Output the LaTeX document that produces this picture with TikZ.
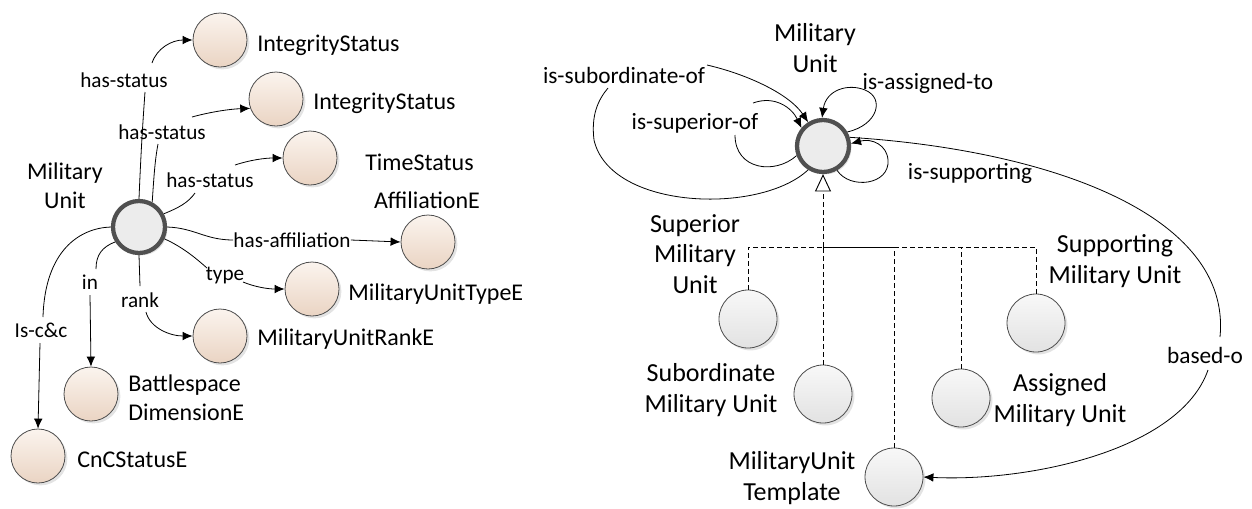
\documentclass[tikz,border=0pt]{standalone}
\usepackage{fontspec}
\setmainfont{Carlito}
\usetikzlibrary{arrows.meta,calc,shadows}
\definecolor{peachtop}{RGB}{251,244,238}
\definecolor{peachbot}{RGB}{234,212,195}
\definecolor{graytop}{RGB}{248,248,248}
\definecolor{graybot}{RGB}{226,226,226}
\definecolor{bigfill}{RGB}{236,236,236}
\definecolor{bigline}{RGB}{80,80,80}
\begin{document}
\begin{tikzpicture}[x=0.75pt,y=-0.75pt,
  every node/.style={inner sep=0pt},
  lnode/.style={font=\fontsize{18}{21.75}\selectfont},
  lelab/.style={font=\fontsize{15.9}{19}\selectfont},
  rnode/.style={font=\fontsize{19.5}{23}\selectfont, align=center},
  relab/.style={font=\fontsize{17.5}{21}\selectfont},
  shad/.style={drop shadow={shadow xshift=1.8pt, shadow yshift=-1.8pt, opacity=0.22}},
  peach/.style={circle, draw=black!70, line width=0.6pt, minimum size=40.5pt, top color=peachtop, bottom color=peachbot, shad},
  grayc/.style={circle, draw=black!70, line width=0.6pt, minimum size=43.5pt, top color=graytop, bottom color=graybot, shad},
  bigc/.style={circle, draw=bigline, line width=3.2pt, minimum size=39pt, fill=bigfill, shad},
  conn/.style={line width=0.6pt},
  arr/.style={conn, -{Latex[length=7.5pt,width=6.5pt]}},
  gen/.style={line width=0.6pt, dash pattern=on 3.5pt off 2.5pt},
  genarr/.style={gen, -{Triangle[open, length=13pt, width=12pt, fill=white, line width=0.7pt]}}
]
\useasboundingbox (0,0) rectangle (1252,508);

% ---------------- left diagram ----------------
\node[bigc] (mu1) at (139,227) {};
\node[lnode, align=center] (mu1l) at (65,186) {Military\\Unit};

\node[peach] (is1) at (220,40) {};
\node[lnode, anchor=west] (is1l) at (257,45) {IntegrityStatus};
\node[peach] (is2) at (276,99) {};
\node[lnode, anchor=west] (is2l) at (313,103) {IntegrityStatus};
\node[peach] (ts) at (310,158) {};
\node[lnode, anchor=west] (tsl) at (365,162) {TimeStatus};
\node[peach] (aff) at (428,242) {};
\node[lnode] (affl) at (427,200) {AffiliationE};
\node[peach] (mut) at (312,289) {};
\node[lnode, anchor=west] (mutl) at (348,294) {MilitaryUnitTypeE};
\node[peach] (mur) at (220,336) {};
\node[lnode, anchor=west] (murl) at (257,339) {MilitaryUnitRankE};
\node[peach] (bd) at (91,394) {};
\node[lnode, anchor=west, align=left] (bdl) at (128,398) {Battlespace\\DimensionE};
\node[peach] (cnc) at (38,456) {};
\node[lnode, anchor=west] (cncl) at (77,460) {CnCStatusE};

% edge labels
\node[lelab] (L1) at (124,80) {has-status};
\node[lelab] (L2) at (162,132) {has-status};
\node[lelab] (L3) at (210,180) {has-status};
\node[lelab] (L4) at (292,240) {has-affiliation};
\node[lelab] (L5) at (225,275) {type};
\node[lelab] (L6) at (140,300) {rank};
\node[lelab] (L7) at (90,282) {in};
\node[lelab] (L8) at (41,330) {Is-c\&c};

% has-status 1
\draw[conn] (mu1.90) .. controls (141,150) and (143,120) .. ($(L1)+(21,12)$);
\draw[arr] ($(L1)+(28,-17)$) .. controls (157,48) and (172,40) .. (is1.west);
% has-status 2
\draw[conn] (mu1.62) .. controls (154,175) and (155,160) .. ($(L2)+(-4,12)$);
\draw[arr] ($(L2)+(30,-15)$) .. controls (210,112) and (230,109) .. (is2.200);
% has-status 3
\draw[conn] (mu1.28) .. controls (178,208) and (188,203) .. ($(L3)+(-15,13)$);
\draw[arr] ($(L3)+(25,-15)$) .. controls (250,160) and (265,158) .. (ts.west);
% has-affiliation
\draw[conn] (mu1.0) .. controls (195,228) and (205,240) .. (L4.west);
\draw[arr] (L4.east) -- (aff.west);
% type
\draw[conn] (mu1.-25) .. controls (185,248) and (200,262) .. ($(L5)+(-18,-7)$);
\draw[arr] ($(L5)+(18,7)$) .. controls (255,287) and (268,289) .. (mut.west);
% rank
\draw[conn] (mu1.south) -- ($(L6)+(0,-14)$);
\draw[arr] ($(L6)+(6,12)$) .. controls (150,328) and (170,336) .. (mur.west);
% in
\draw[conn] (mu1.212) .. controls (102,247) and (96,255) .. ($(L7)+(6,-13)$);
\draw[arr] ($(L7)+(0,13)$) -- (bd.north);
% Is-c&c
\draw[conn] (mu1.west) .. controls (80,228) and (45,250) .. ($(L8)+(2,-13)$);
\draw[arr] ($(L8)+(-1,13)$) -- (cnc.north);

% ---------------- right diagram ----------------
\node[bigc] (mu2) at (823,146) {};
\node[rnode] (mu2l) at (815,48) {Military\\Unit};

\node[grayc] (sup) at (748,319) {};
\node[rnode] (supl) at (695,254) {Superior\\Military\\Unit};
\node[grayc] (sub) at (823,394) {};
\node[rnode] (subl) at (711,390) {Subordinate\\Military Unit};
\node[grayc] (tmpl) at (894,477) {};
\node[rnode] (tmpll) at (792,478) {MilitaryUnit\\Template};
\node[grayc] (asg) at (961,398) {};
\node[rnode] (asgl) at (1060,400) {Assigned\\Military Unit};
\node[grayc] (supp) at (1036,323) {};
\node[rnode] (suppl) at (1115,261) {Supporting\\Military Unit};

\node[relab] (Lsub) at (624,75) {is-subordinate-of};
\node[relab] (Lsup) at (695,123) {is-superior-of};
\node[relab] (Lasg) at (928,83) {is-assigned-to};
\node[relab] (Lspt) at (970,173) {is-supporting};
\node[relab] (Lbas) at (1205,355) {based-o};

% is-subordinate-of
\draw[conn] (mu2.238) .. controls (760,215) and (610,210) .. (594,140) .. controls (591,115) and (598,100) .. ($(Lsub)+(-16,13)$);
\draw[arr] ($(Lsub)+(83,-10)$) .. controls (750,75) and (790,95) .. (mu2.122);
% is-superior-of
\draw[conn] (mu2.200) .. controls (775,175) and (735,170) .. ($(Lsup)+(40,12)$);
\draw[arr] ($(Lsup)+(58,-20)$) .. controls (775,95) and (792,108) .. (mu2.140);
% is-assigned-to
\draw[arr] (mu2.30) .. controls (878,125) and (885,98) .. (865,90) .. controls (848,83) and (826,90) .. (mu2.92);
% is-supporting
\draw[arr] (mu2.-60) .. controls (850,190) and (890,185) .. (888,160) .. controls (887,145) and (872,138) .. (mu2.5);
% based-on
\draw[conn] (mu2.18) .. controls (1050,150) and (1232,215) .. ($(Lbas)+(15,-18)$);
\draw[arr] ($(Lbas)+(3,15)$) .. controls (1180,450) and (1030,482) .. (tmpl.east);

% generalisation
\coordinate (J) at (823,247);
\draw[gen] (sup.north) |- (J);
\draw[gen] (supp.north) |- (J);
\draw[gen] (asg.north) |- (J);
\draw[gen] (tmpl.north) |- (J);
\draw[gen] (sub.north) -- (J);
\draw[genarr] (J) -- (mu2.south);
\end{tikzpicture}
\end{document}
